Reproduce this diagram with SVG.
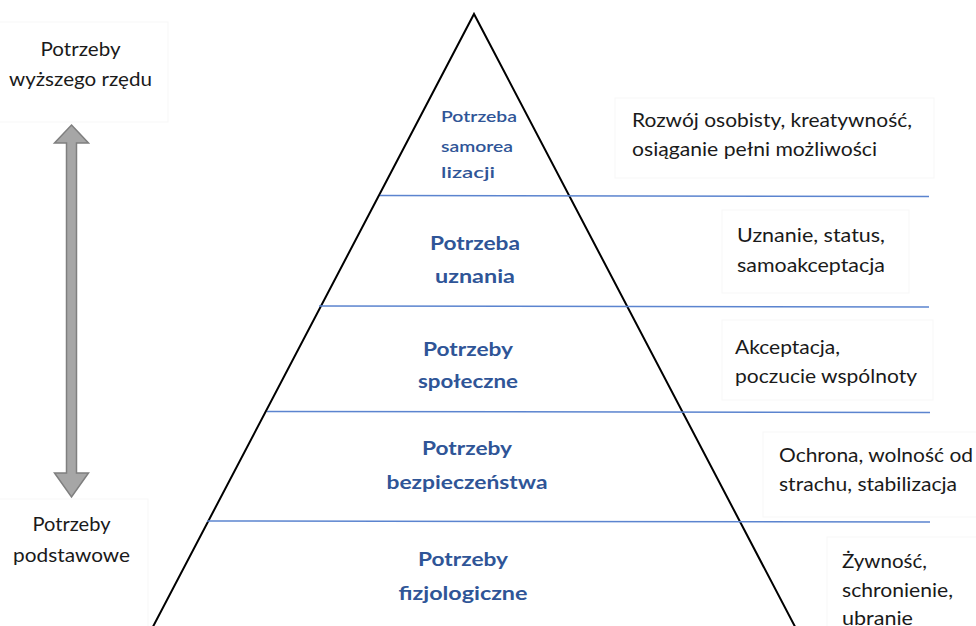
<svg xmlns="http://www.w3.org/2000/svg" width="976" height="626" viewBox="0 0 976 626">
  <style>
    .bg { fill: #ffffff; }
    .box { fill: #ffffff; stroke: #f7f7f7; stroke-width: 1; }
    .note { font-family: "Lato", "Liberation Sans", sans-serif; font-size: 20px; fill: #1a1a1a; }
    .level { font-family: "Lato", "Liberation Sans", sans-serif; font-size: 19px; font-weight: bold; fill: #2f5597; text-anchor: middle; }
    .level-sm { font-family: "Lato", "Liberation Sans", sans-serif; font-size: 16px; font-weight: 600; fill: #2f5597; }
    .mid { text-anchor: middle; }
    .divider { stroke: #5b84cf; stroke-width: 1.5; fill: none; }
    .edge { stroke: #000000; stroke-width: 2; fill: none; }
    .axis { fill: #a6a6a6; stroke: #7f7f7f; stroke-width: 1.5; stroke-linejoin: miter; }
  </style>

  <rect class="bg" x="0" y="0" width="976" height="626"/>

  <!-- pyramid outline -->
  <g id="pyramid">
    <path class="edge" d="M 146 640 L 474 14 L 802 640"/>
  </g>

  <!-- level dividers -->
  <g id="connectors">
    <line class="divider" x1="380" y1="195.5" x2="929" y2="196.5"/>
    <line class="divider" x1="319" y1="306" x2="929" y2="307"/>
    <line class="divider" x1="267" y1="411.5" x2="930" y2="412.5"/>
    <line class="divider" x1="207" y1="521" x2="930" y2="522"/>
    <!-- vertical range arrow -->
    <polygon class="axis" points="71.5,125 88.5,143 76.5,143 76.5,473 88.5,473 71.5,497 54.5,473 66.5,473 66.5,143 54.5,143"/>
  </g>

  <!-- side captions -->
  <g id="caption-higher">
    <rect class="box" x="-1" y="22" width="169" height="100"/>
    <text class="note mid" x="80.5" y="56" textLength="80" lengthAdjust="spacingAndGlyphs">Potrzeby</text>
    <text class="note mid" x="80.5" y="86" textLength="143" lengthAdjust="spacingAndGlyphs">wyższego rzędu</text>
  </g>
  <g id="caption-basic">
    <rect class="box" x="-1" y="499" width="149" height="140"/>
    <text class="note mid" x="71.5" y="531" textLength="78" lengthAdjust="spacingAndGlyphs">Potrzeby</text>
    <text class="note mid" x="71.5" y="562" textLength="117" lengthAdjust="spacingAndGlyphs">podstawowe</text>
  </g>

  <!-- pyramid levels -->
  <g id="level-self-actualization">
    <text class="level-sm" x="441" y="122" textLength="76" lengthAdjust="spacingAndGlyphs">Potrzeba</text>
    <text class="level-sm" x="441" y="152" textLength="72" lengthAdjust="spacingAndGlyphs">samorea</text>
    <text class="level-sm" x="441" y="178" textLength="54" lengthAdjust="spacingAndGlyphs">lizacji</text>
  </g>
  <g id="level-esteem">
    <text class="level" x="475" y="250" textLength="90" lengthAdjust="spacingAndGlyphs">Potrzeba</text>
    <text class="level" x="475" y="283" textLength="80" lengthAdjust="spacingAndGlyphs">uznania</text>
  </g>
  <g id="level-social">
    <text class="level" x="468" y="356" textLength="90" lengthAdjust="spacingAndGlyphs">Potrzeby</text>
    <text class="level" x="468" y="388" textLength="100" lengthAdjust="spacingAndGlyphs">społeczne</text>
  </g>
  <g id="level-safety">
    <text class="level" x="467" y="455" textLength="90" lengthAdjust="spacingAndGlyphs">Potrzeby</text>
    <text class="level" x="467" y="489" textLength="161" lengthAdjust="spacingAndGlyphs">bezpieczeństwa</text>
  </g>
  <g id="level-physiological">
    <text class="level" x="463" y="566" textLength="90" lengthAdjust="spacingAndGlyphs">Potrzeby</text>
    <text class="level" x="463" y="600" textLength="129" lengthAdjust="spacingAndGlyphs">fizjologiczne</text>
  </g>

  <!-- descriptions on the right -->
  <g id="desc-self-actualization">
    <rect class="box" x="615" y="98" width="319" height="80"/>
    <text class="note" x="632" y="127" textLength="280" lengthAdjust="spacingAndGlyphs">Rozwój osobisty, kreatywność,</text>
    <text class="note" x="632" y="156" textLength="245" lengthAdjust="spacingAndGlyphs">osiąganie pełni możliwości</text>
  </g>
  <g id="desc-esteem">
    <rect class="box" x="722" y="210" width="187" height="83"/>
    <text class="note" x="737" y="242" textLength="148" lengthAdjust="spacingAndGlyphs">Uznanie, status,</text>
    <text class="note" x="737" y="272" textLength="148" lengthAdjust="spacingAndGlyphs">samoakceptacja</text>
  </g>
  <g id="desc-social">
    <rect class="box" x="722" y="320" width="211" height="80"/>
    <text class="note" x="735" y="354" textLength="105" lengthAdjust="spacingAndGlyphs">Akceptacja,</text>
    <text class="note" x="735" y="383" textLength="182" lengthAdjust="spacingAndGlyphs">poczucie wspólnoty</text>
  </g>
  <g id="desc-safety">
    <rect class="box" x="763" y="432" width="220" height="85"/>
    <text class="note" x="779" y="462" textLength="194" lengthAdjust="spacingAndGlyphs">Ochrona, wolność od</text>
    <text class="note" x="779" y="491" textLength="178" lengthAdjust="spacingAndGlyphs">strachu, stabilizacja</text>
  </g>
  <g id="desc-physiological">
    <rect class="box" x="827" y="537" width="160" height="100"/>
    <text class="note" x="842" y="568" textLength="85" lengthAdjust="spacingAndGlyphs">Żywność,</text>
    <text class="note" x="842" y="597" textLength="111" lengthAdjust="spacingAndGlyphs">schronienie,</text>
    <text class="note" x="842" y="625" textLength="71" lengthAdjust="spacingAndGlyphs">ubranie</text>
  </g>
</svg>
